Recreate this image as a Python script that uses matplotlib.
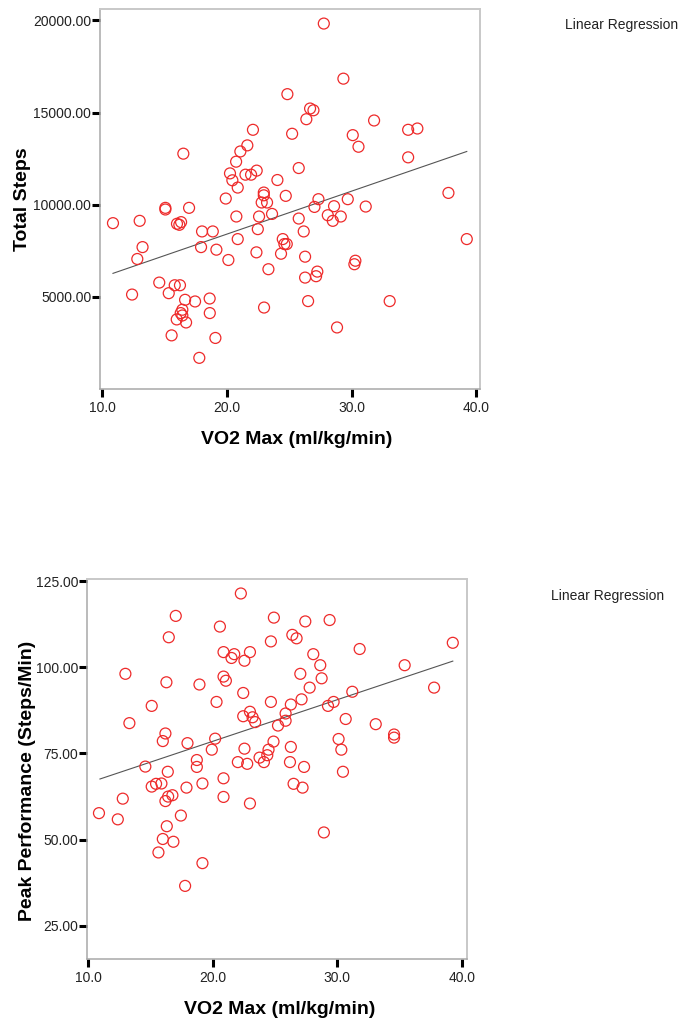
import matplotlib
matplotlib.use("Agg")
import matplotlib.pyplot as plt
import numpy as np

plt.rcParams['font.family'] = ['Liberation Sans', 'DejaVu Sans']

# ---------------- data: top panel (VO2 max vs total steps) ----------------
vo2_top = [24.86, 22.1, 16.52, 21.65, 21.09, 20.75, 20.26, 20.45, 20.88, 21.5,
           21.95, 22.4, 24.06, 22.97, 24.73, 22.97, 22.8, 23.23, 19.92, 20.77,
           22.59, 23.63, 22.49, 20.88, 22.38, 23.34, 24.49, 24.62, 24.81, 24.35,
           10.88, 13.02, 15.08, 15.08, 16.98, 16.01, 16.2, 16.34, 18.02, 18.88,
           13.25, 12.83, 17.94, 19.17, 20.13, 14.59, 15.83, 16.25, 15.35, 12.41,
           16.66, 17.46, 18.63, 16.44, 16.31, 16.44, 15.99, 16.74, 18.64, 22.99,
           15.58, 19.09, 17.8, 27.78, 29.35, 26.68, 26.95, 26.38, 31.81, 25.24,
           30.1, 30.56, 34.54, 35.28, 34.54, 25.77, 27.35, 29.7, 37.77, 27.03,
           28.6, 31.14, 28.1, 29.14, 28.5, 25.77, 26.17, 26.28, 39.24, 27.26,
           27.16, 26.28, 30.31, 30.23, 26.52, 33.06, 28.84]
total_steps = [16000, 14065, 12770, 13220, 12890, 12335, 11700, 11325, 10930, 11630,
               11630, 11850, 11340, 10660, 10480, 10510, 10120, 10120, 10335, 9360,
               9360, 9500, 8675, 8135, 7415, 6500, 8135, 7865, 7865, 7340,
               9000, 9125, 9830, 9740, 9830, 8965, 8910, 9055, 8550, 8550,
               7700, 7055, 7700, 7560, 7000, 5775, 5630, 5630, 5200, 5125,
               4840, 4750, 4910, 4300, 4120, 3990, 3775, 3610, 4120, 4420,
               2910, 2770, 1690, 19830, 16840, 15220, 15125, 14640, 14570, 13850,
               13775, 13145, 14065, 14135, 12570, 11990, 10300, 10300, 10640, 9880,
               9920, 9900, 9430, 9360, 9125, 9250, 8550, 7180, 8135, 6370,
               6120, 6045, 6960, 6770, 4770, 4770, 3340]
# regression line (intercept, slope, x-range)
fit_top = (3738.0, 233.2)
fit_top_x = (10.88, 39.24)

# ---------------- data: bottom panel (VO2 max vs peak performance) ----------------
vo2_bot = [22.26, 17.04, 24.91, 20.58, 16.48, 24.67, 20.87, 21.73, 21.51, 22.99,
           22.55, 13.0, 16.29, 18.94, 20.87, 21.06, 22.45, 15.11, 20.31, 24.67,
           13.32, 22.45, 22.99, 23.2, 23.41, 25.24, 16.21, 16.0, 17.98, 20.2,
           19.93, 24.88, 24.48, 24.38, 23.76, 24.11, 22.55, 18.73, 18.73, 22.02,
           22.77, 14.6, 16.4, 20.87, 27.43, 29.38, 26.39, 26.73, 39.26, 31.79,
           28.07, 28.63, 35.4, 27.03, 28.74, 27.78, 37.76, 31.2, 27.13, 29.7,
           29.25, 26.27, 25.85, 25.85, 30.67, 33.08, 34.55, 34.55, 30.1, 30.32,
           26.27, 26.2, 27.33, 30.45, 19.18, 17.9, 15.11, 15.46, 15.89, 12.79,
           16.43, 16.77, 16.21, 20.87, 22.99, 10.88, 12.39, 17.45, 16.32, 16.0,
           16.85, 15.65, 19.18, 17.79, 26.49, 27.21, 28.92]
peak_perf = [121.4, 114.9, 114.4, 111.8, 108.7, 107.5, 104.4, 103.8, 102.7, 104.4,
             101.9, 98.1, 95.65, 95.0, 97.3, 96.1, 92.55, 88.8, 89.95, 89.95,
             83.8, 85.8, 87.1, 85.5, 84.1, 83.1, 80.8, 78.6, 78.0, 79.3,
             76.1, 78.45, 76.1, 74.5, 73.8, 72.5, 76.4, 73.1, 71.1, 72.5,
             72.0, 71.2, 69.7, 67.8, 113.3, 113.7, 109.4, 108.4, 107.1, 105.3,
             103.8, 100.6, 100.6, 98.1, 96.8, 94.1, 94.1, 92.9, 90.7, 89.95,
             88.8, 89.2, 86.6, 84.5, 85.0, 83.5, 80.5, 79.6, 79.2, 76.1,
             76.9, 72.5, 71.1, 69.7, 66.3, 65.1, 65.4, 66.2, 66.3, 61.9,
             62.5, 62.9, 61.2, 62.4, 60.5, 57.7, 55.9, 57.0, 53.9, 50.2,
             49.4, 46.3, 43.2, 36.6, 66.2, 65.1, 52.1]
fit_bot = (54.36, 1.208)
fit_bot_x = (10.96, 39.26)

x_ticks = [10.0, 20.0, 30.0, 40.0]
y_ticks_top = [5000, 10000, 15000, 20000]
y_ticks_bot = [25, 50, 75, 100, 125]

W, H = 687, 1030
fig = plt.figure(figsize=(W / 100, H / 100), dpi=100)


def px_axes(left, top, right, bottom):
    return fig.add_axes([left / W, 1 - bottom / H, (right - left) / W, (bottom - top) / H])


def style(ax):
    for side in ['left', 'bottom']:
        ax.spines[side].set_color('#A8A8A8')
        ax.spines[side].set_linewidth(1.1)
    for side in ['top', 'right']:
        ax.spines[side].set_color('#C8C8C8')
        ax.spines[side].set_linewidth(1.4)
    ax.tick_params(axis='both', direction='out', length=5.8, width=2.2,
                   color='black', labelsize=10, labelcolor='#222222')
    ax.tick_params(axis='y', pad=0.5)
    ax.tick_params(axis='x', pad=3)


marker_kw = dict(marker='o', s=62, facecolors='none', edgecolors='#EE2A2A',
                 linewidths=0.9, zorder=3)
line_kw = dict(color='#555555', lw=0.8, zorder=2)

# ---------------- top panel ----------------
ax1 = px_axes(100, 9, 480, 389)
ax1.scatter(vo2_top, total_steps, **marker_kw)
xs = np.array(fit_top_x)
ax1.plot(xs, fit_top[0] + fit_top[1] * xs, **line_kw)
ax1.set_xlim(9.84, 40.3)
ax1.set_ylim(0, 20620)
ax1.set_xticks(x_ticks)
ax1.set_xticklabels([f"{v:.1f}" for v in x_ticks])
ax1.set_yticks(y_ticks_top)
ax1.set_yticklabels([f"{v:.2f}" for v in y_ticks_top])
style(ax1)
ax1.set_xlabel("VO2 Max (ml/kg/min)", fontsize=14, fontweight='bold')
ax1.xaxis.set_label_coords(0.518, -0.134)
ax1.xaxis.label.set_va('center')
ax1.set_ylabel("Total Steps", fontsize=14, fontweight='bold')
ax1.yaxis.set_label_coords(-0.205, 0.5)
ax1.yaxis.label.set_va('center')
fig.text(622 / W, 1 - 25 / H, "Linear Regression", fontsize=10, color='#222222',
         ha='center', va='center')

# ---------------- bottom panel ----------------
ax2 = px_axes(87, 579, 467, 959)
ax2.scatter(vo2_bot, peak_perf, **marker_kw)
xs = np.array(fit_bot_x)
ax2.plot(xs, fit_bot[0] + fit_bot[1] * xs, **line_kw)
ax2.set_xlim(9.92, 40.4)
ax2.set_ylim(15.4, 125.6)
ax2.set_xticks(x_ticks)
ax2.set_xticklabels([f"{v:.1f}" for v in x_ticks])
ax2.set_yticks(y_ticks_bot)
ax2.set_yticklabels([f"{v:.2f}" for v in y_ticks_bot])
style(ax2)
ax2.set_xlabel("VO2 Max (ml/kg/min)", fontsize=14, fontweight='bold')
ax2.xaxis.set_label_coords(0.508, -0.134)
ax2.xaxis.label.set_va('center')
ax2.set_ylabel("Peak Performance (Steps/Min)", fontsize=14, fontweight='bold')
ax2.yaxis.set_label_coords(-0.156, 0.468)
ax2.yaxis.label.set_va('center')
fig.text(608 / W, 1 - 596 / H, "Linear Regression", fontsize=10, color='#222222',
         ha='center', va='center')

fig.savefig("out.png", dpi=100)
